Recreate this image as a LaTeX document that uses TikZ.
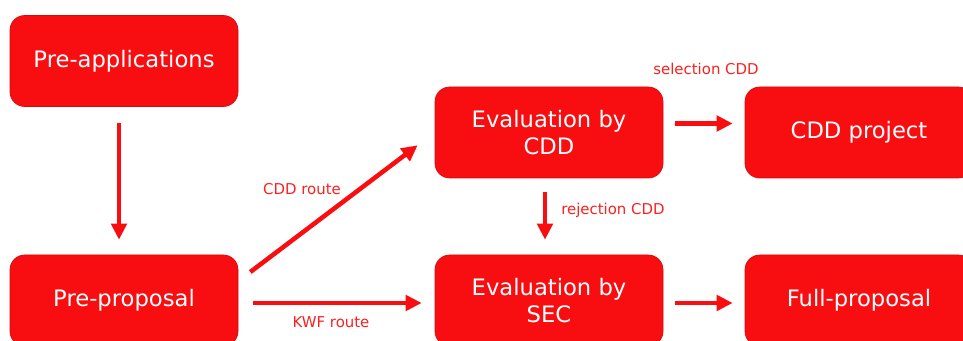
\documentclass[tikz,border=0pt]{standalone}
\usepackage{fontspec}
\setmainfont{DejaVu Sans}
\usetikzlibrary{arrows.meta,calc}
\definecolor{boxred}{RGB}{248,14,16}
\definecolor{labelred}{RGB}{250,32,32}
\tikzset{
  stagebox/.style={fill=boxred,draw=boxred!85!black,line width=0.5pt,rounded corners=11pt,
    minimum width=171pt,minimum height=68.25pt,inner sep=0pt,text=white,align=center,
    font=\fontsize{17}{20.5}\selectfont},
  flowarrow/.style={-{Triangle[length=12pt,width=11.5pt]},line width=3.4pt,draw=boxred},
  routelabel/.style={text=labelred,inner sep=0pt,font=\fontsize{11.2}{13}\selectfont}
}

\begin{document}
\begin{tikzpicture}[x=0.75pt,y=-0.75pt]
  \useasboundingbox (0,0) rectangle (963,341);
  \clip (0,0) rectangle (963,341);
  % stages
  \node[stagebox] (preapp)  at (124,61)    {Pre-applications};
  \node[stagebox] (preprop) at (124,300.5) {Pre-proposal};
  \node[stagebox] (evalcdd) at (549,132.5) {Evaluation by\\CDD};
  \node[stagebox] (cddproj) at (859,132.5) {CDD project};
  \node[stagebox] (evalsec) at (549,300.5) {Evaluation by\\SEC};
  \node[stagebox] (fullprop) at (859,300.5) {Full-proposal};
  % arrows
  \draw[flowarrow] ($(preapp.south)+(-5,16)$) -- ($(preprop.north)+(-5,-15)$);
  \draw[flowarrow] ($(preprop.east)+(12,-28.5)$) -- ($(evalcdd.south west)+(-17,-33)$);
  \draw[flowarrow] ($(preprop.east)+(15,2.5)$) -- ($(evalsec.west)+(-13,2.5)$);
  \draw[flowarrow] ($(evalcdd.east)+(12,-9)$) -- ($(cddproj.west)+(-12,-9)$);
  \draw[flowarrow] ($(evalcdd.south)+(-4,14)$) -- ($(evalsec.north)+(-4,-15)$);
  \draw[flowarrow] ($(evalsec.east)+(12,2.5)$) -- ($(fullprop.west)+(-12,2.5)$);
  % labels
  \node[routelabel] (selcdd) at (706,69) {selection CDD};
  \node[routelabel,anchor=west] (rejcdd) at (561,210) {rejection CDD};
  \node[routelabel] (cddroute) at (302,189) {CDD route};
  \node[routelabel] (kwfroute) at (331,322) {KWF route};
\end{tikzpicture}
\end{document}
